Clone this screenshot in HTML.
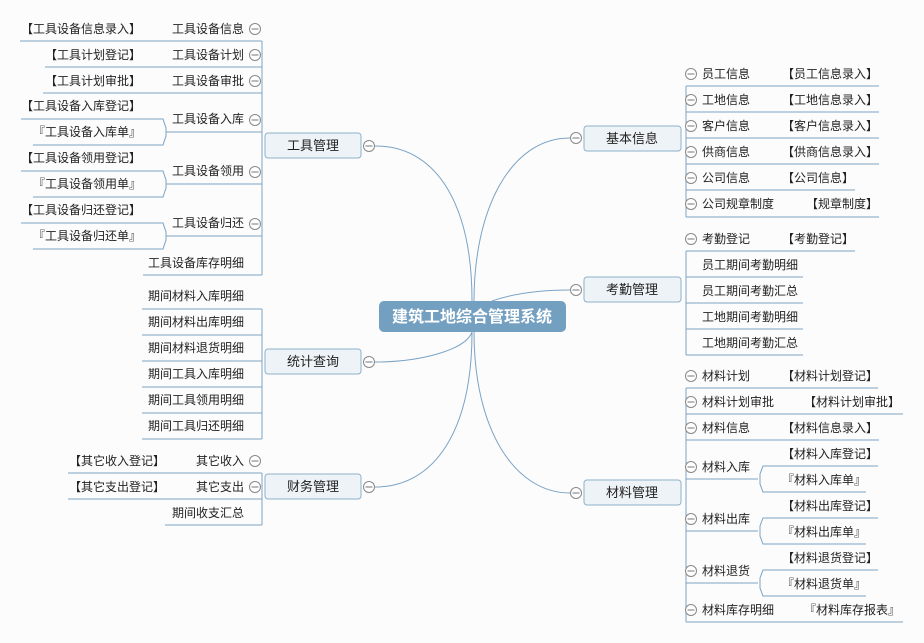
<!DOCTYPE html>
<html><head><meta charset="utf-8">
<style>
html,body{margin:0;padding:0;background:#fcfcfd;}
svg{display:block;}
text{font-family:"Liberation Sans","Noto Sans CJK SC",sans-serif;font-size:12px;fill:#222;}
.b{font-size:13px;}
.c{font-size:16px;fill:#fff;font-weight:bold;}
.l{stroke:#7ba3c4;stroke-width:1;fill:none;}
.bx{fill:#eef3f7;stroke:#8db0ca;stroke-width:1;}
.r{text-anchor:end;}
.m{text-anchor:middle;}
</style></head><body>
<svg width="924" height="643" viewBox="0 0 924 643" xmlns="http://www.w3.org/2000/svg">
<defs>
<g id="o"><circle cx="0" cy="0" r="5.5" fill="#fff" stroke="#888" stroke-width="1"/><line x1="-3.5" y1="0" x2="3.5" y2="0" stroke="#777" stroke-width="1"/></g>
</defs>

<path class="l" d="M472,301 C472,210 440,146 375,146"/>
<path class="l" d="M472,332 C466,350 420,362 375,362"/>
<path class="l" d="M472,332 C472,430 435,487 375,487"/>
<path class="l" d="M474,301 C474,210 510,138 570,138"/>
<path class="l" d="M492,301 C515,293 540,290 570,290"/>
<path class="l" d="M474,332 C474,430 515,493 570,493"/>

<rect x="379" y="301" width="187" height="31" rx="5" fill="#739fc0"/>
<text class="c m" x="472" y="322">建筑工地综合管理系统</text>

<g class="l">
<path d="M20,41H262"/><path d="M45,67H262"/><path d="M43,93H262"/>
<path d="M21,119H163L166,128V136L163,145H33"/><path d="M166,132H262"/>
<path d="M21,171H163L166,180V188L163,197H33"/><path d="M166,184H262"/>
<path d="M21,223H163L166,232V240L163,249H33"/><path d="M166,236H262"/>
<path d="M143,275H262"/>
<path d="M262,41V275"/>
</g>
<rect class="bx" x="265" y="133" width="96" height="25" rx="3"/>
<text class="b m" x="313" y="150">工具管理</text>
<use href="#o" x="369" y="146"/>
<text class="r" x="141" y="33">【工具设备信息录入】</text>
<text class="r" x="141" y="59">【工具计划登记】</text>
<text class="r" x="141" y="85">【工具计划审批】</text>
<text class="r" x="141" y="110">【工具设备入库登记】</text>
<text class="r" x="141" y="136">『工具设备入库单』</text>
<text class="r" x="141" y="162">【工具设备领用登记】</text>
<text class="r" x="141" y="188">『工具设备领用单』</text>
<text class="r" x="141" y="214">【工具设备归还登记】</text>
<text class="r" x="141" y="240">『工具设备归还单』</text>
<text class="r" x="244" y="33">工具设备信息</text>
<text class="r" x="244" y="59">工具设备计划</text>
<text class="r" x="244" y="85">工具设备审批</text>
<text class="r" x="244" y="123">工具设备入库</text>
<text class="r" x="244" y="175">工具设备领用</text>
<text class="r" x="244" y="227">工具设备归还</text>
<text class="r" x="244" y="267">工具设备库存明细</text>
<use href="#o" x="255" y="29"/><use href="#o" x="255" y="55"/><use href="#o" x="255" y="81"/>
<use href="#o" x="255" y="120"/><use href="#o" x="255" y="172"/><use href="#o" x="255" y="224"/>

<g class="l">
<path d="M142,309H262"/><path d="M142,335H262"/><path d="M142,361H262"/>
<path d="M142,387H262"/><path d="M142,413H262"/><path d="M142,439H262"/>
<path d="M262,309V439"/>
</g>
<rect class="bx" x="265" y="349" width="96" height="25" rx="3"/>
<text class="b m" x="313" y="366">统计查询</text>
<use href="#o" x="369" y="362"/>
<text class="r" x="244" y="300">期间材料入库明细</text>
<text class="r" x="244" y="326">期间材料出库明细</text>
<text class="r" x="244" y="352">期间材料退货明细</text>
<text class="r" x="244" y="378">期间工具入库明细</text>
<text class="r" x="244" y="404">期间工具领用明细</text>
<text class="r" x="244" y="430">期间工具归还明细</text>

<g class="l">
<path d="M68,473H262"/><path d="M68,499H262"/><path d="M165,525H262"/>
<path d="M262,473V525"/>
</g>
<rect class="bx" x="265" y="474" width="96" height="25" rx="3"/>
<text class="b m" x="313" y="491">财务管理</text>
<use href="#o" x="369" y="487"/>
<text class="r" x="165" y="465">【其它收入登记】</text>
<text class="r" x="165" y="491">【其它支出登记】</text>
<text class="r" x="244" y="465">其它收入</text>
<text class="r" x="244" y="491">其它支出</text>
<text class="r" x="244" y="517">期间收支汇总</text>
<use href="#o" x="255" y="461"/><use href="#o" x="255" y="487"/>

<g class="l">
<path d="M686,86H879"/><path d="M686,112H879"/><path d="M686,138H879"/>
<path d="M686,164H879"/><path d="M686,190H855"/><path d="M686,217H879"/>
<path d="M686,86V217"/>
</g>
<rect class="bx" x="584" y="126" width="97" height="25" rx="3"/>
<text class="b m" x="632" y="143">基本信息</text>
<use href="#o" x="576" y="138"/>
<text x="702" y="78">员工信息</text><text x="782" y="78">【员工信息录入】</text>
<text x="702" y="104">工地信息</text><text x="782" y="104">【工地信息录入】</text>
<text x="702" y="130">客户信息</text><text x="782" y="130">【客户信息录入】</text>
<text x="702" y="156">供商信息</text><text x="782" y="156">【供商信息录入】</text>
<text x="702" y="182">公司信息</text><text x="782" y="182">【公司信息】</text>
<text x="702" y="208">公司规章制度</text><text x="806" y="208">【规章制度】</text>
<use href="#o" x="691" y="74"/><use href="#o" x="691" y="100"/><use href="#o" x="691" y="126"/>
<use href="#o" x="691" y="152"/><use href="#o" x="691" y="178"/><use href="#o" x="691" y="204"/>

<g class="l">
<path d="M686,251H855"/><path d="M686,277H803"/><path d="M686,303H803"/>
<path d="M686,329H803"/><path d="M686,355H803"/>
<path d="M686,251V355"/>
</g>
<rect class="bx" x="584" y="277" width="97" height="25" rx="3"/>
<text class="b m" x="632" y="294">考勤管理</text>
<use href="#o" x="576" y="290"/>
<text x="702" y="243">考勤登记</text><text x="782" y="243">【考勤登记】</text>
<text x="702" y="269">员工期间考勤明细</text>
<text x="702" y="295">员工期间考勤汇总</text>
<text x="702" y="321">工地期间考勤明细</text>
<text x="702" y="347">工地期间考勤汇总</text>
<use href="#o" x="691" y="239"/>

<g class="l">
<path d="M686,388H878"/><path d="M686,414H903"/><path d="M686,440H879"/>
<path d="M686,479H758"/><path d="M878,466H763L760,474V484L763,492H866"/>
<path d="M686,531H758"/><path d="M878,518H763L760,526V536L763,544H866"/>
<path d="M686,583H758"/><path d="M878,570H763L760,578V588L763,596H866"/>
<path d="M686,622H903"/>
<path d="M686,388V622"/>
</g>
<rect class="bx" x="584" y="480" width="97" height="25" rx="3"/>
<text class="b m" x="632" y="497">材料管理</text>
<use href="#o" x="576" y="493"/>
<text x="702" y="380">材料计划</text><text x="782" y="380">【材料计划登记】</text>
<text x="702" y="406">材料计划审批</text><text x="804" y="406">【材料计划审批】</text>
<text x="702" y="432">材料信息</text><text x="782" y="432">【材料信息录入】</text>
<text x="702" y="471">材料入库</text><text x="782" y="458">【材料入库登记】</text><text x="782" y="484">『材料入库单』</text>
<text x="702" y="523">材料出库</text><text x="782" y="510">【材料出库登记】</text><text x="782" y="536">『材料出库单』</text>
<text x="702" y="575">材料退货</text><text x="782" y="562">【材料退货登记】</text><text x="782" y="588">『材料退货单』</text>
<text x="702" y="614">材料库存明细</text><text x="804" y="614">『材料库存报表』</text>
<use href="#o" x="691" y="376"/><use href="#o" x="691" y="402"/><use href="#o" x="691" y="428"/>
<use href="#o" x="691" y="467"/><use href="#o" x="691" y="519"/><use href="#o" x="691" y="571"/>
<use href="#o" x="691" y="610"/>
</svg>
</body></html>
